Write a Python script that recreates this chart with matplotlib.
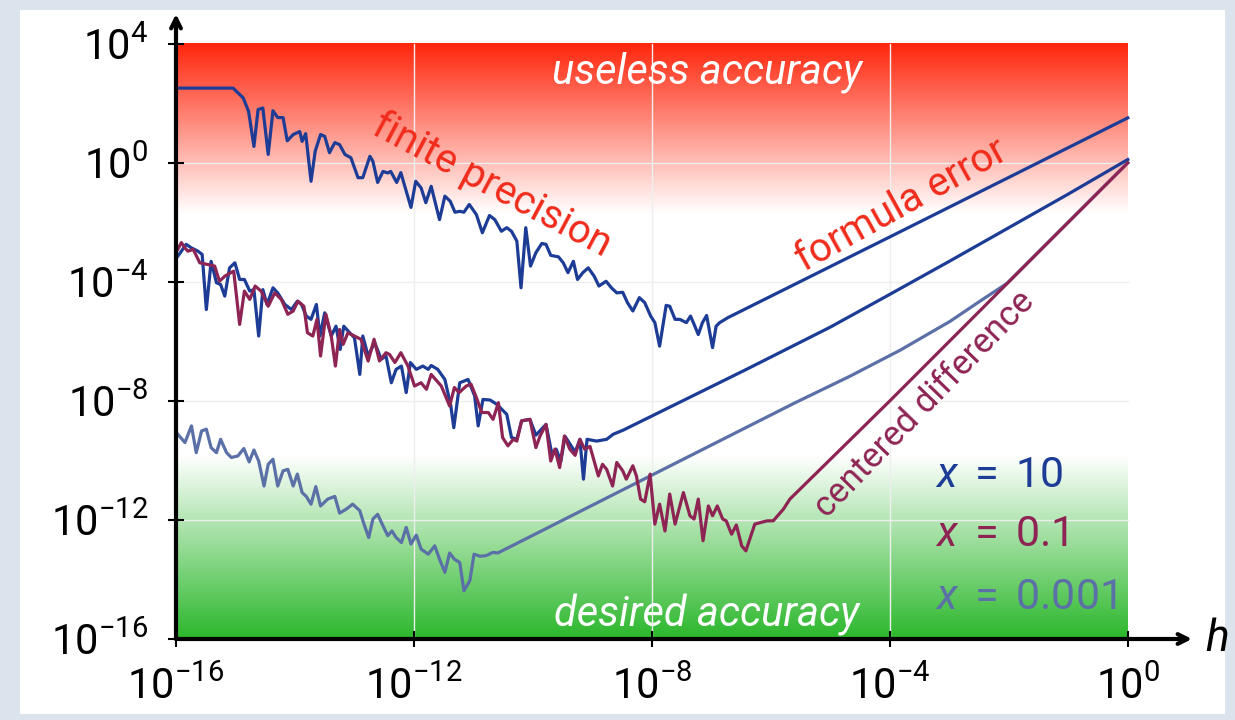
import numpy as np
import matplotlib
matplotlib.use("Agg")
import matplotlib.pyplot as plt

plt.rcParams['font.family'] = ['Roboto', 'DejaVu Sans']
plt.rcParams['mathtext.fontset'] = 'custom'
plt.rcParams['mathtext.rm'] = 'Roboto'
plt.rcParams['mathtext.it'] = 'Roboto:italic'
plt.rcParams['mathtext.bf'] = 'Roboto:bold'

# ---------------- data (log10 exponents) ----------------
# x = 10, forward difference (top blue)
top_h = [-15.97, -15.04, -14.87, -14.78, -14.69, -14.62, -14.54, -14.45, -14.37, -14.29,
         -14.20, -14.13, -14.03, -13.92, -13.88, -13.82, -13.73, -13.66, -13.57, -13.50,
         -13.42, -13.33, -13.25, -13.16, -13.06, -12.94, -12.86, -12.74, -12.69, -12.61,
         -12.52, -12.44, -12.39, -12.29, -12.22, -12.05, -11.97, -11.88, -11.80, -11.71,
         -11.57, -11.48, -11.39, -11.31, -11.23, -11.16, -11.07, -10.95, -10.85, -10.73,
         -10.64, -10.53, -10.44, -10.36, -10.27, -10.20, -10.12, -10.04, -9.95, -9.85,
         -9.78, -9.70, -9.57, -9.49, -9.41, -9.32, -9.25, -9.16, -9.07, -8.97,
         -8.89, -8.77, -8.68, -8.59, -8.49, -8.41, -8.32, -8.21, -8.12, -8.02,
         -7.95, -7.87, -7.76, -7.70, -7.61, -7.53, -7.42, -7.35, -7.29, -7.22,
         -7.15, -7.08, -6.98, -6.92, -6.86, -6.72, -4.00, -2.00, 0.00]
top_e = [2.51, 2.51, 2.18, 1.73, 0.55, 1.79, 1.84, 0.28, 1.75, 1.52,
         1.52, 0.74, 0.95, 1.05, 0.72, 0.98, -0.62, 0.39, 0.95, 0.89,
         0.34, 0.68, 0.61, 0.28, 0.17, -0.50, -0.50, 0.22, 0.05, -0.66,
         -0.29, -0.34, -0.29, -0.66, -0.33, -1.50, -0.62, -0.84, -1.34, -0.79,
         -1.91, -1.12, -1.29, -1.66, -1.63, -1.66, -1.40, -1.74, -2.35, -1.77,
         -1.91, -2.30, -2.18, -2.30, -2.63, -4.20, -2.18, -3.47, -3.02, -2.71,
         -2.74, -3.11, -3.16, -3.36, -3.69, -3.31, -3.92, -3.69, -3.53, -3.81,
         -4.14, -3.98, -4.20, -4.37, -4.35, -4.70, -4.98, -4.53, -4.70, -5.15,
         -5.37, -6.16, -4.79, -4.82, -5.26, -5.26, -5.37, -5.15, -5.43, -5.77,
         -5.37, -5.13, -6.21, -5.49, -5.37, -5.20, -2.49, -0.49, 1.51]

# x = 0.1, forward difference (middle blue)
mid_h = [-15.97, -15.91, -15.83, -15.74, -15.63, -15.56, -15.49, -15.41, -15.32, -15.25,
         -15.18, -15.10, -15.01, -14.93, -14.85, -14.76, -14.69, -14.61, -14.54, -14.47,
         -14.37, -14.29, -14.17, -14.06, -13.96, -13.89, -13.81, -13.73, -13.64, -13.58,
         -13.50, -13.39, -13.31, -13.24, -13.18, -13.08, -13.00, -12.91, -12.86, -12.77,
         -12.66, -12.55, -12.47, -12.38, -12.30, -12.21, -12.13, -12.06, -11.96, -11.85,
         -11.76, -11.71, -11.60, -11.48, -11.38, -11.33, -11.23, -11.09, -10.98, -10.92,
         -10.84, -10.72, -10.61, -10.44, -10.36, -10.27, -10.19, -10.05, -9.95, -9.78,
         -9.68, -9.61, -9.53, -9.46, -9.29, -9.21, -9.15, -9.09, -8.93, -8.76,
         -8.65, -8.48, -6.41, -5.00, -4.00, -3.00, -2.00, -1.00, 0.00]
mid_e = [-3.14, -2.97, -2.74, -2.86, -2.97, -3.08, -4.93, -3.31, -4.03, -4.09,
         -4.48, -3.53, -3.36, -3.92, -3.92, -4.31, -4.26, -5.82, -4.26, -4.76,
         -4.20, -4.37, -4.76, -4.93, -4.65, -4.76, -5.15, -5.26, -4.76, -5.82,
         -5.04, -5.82, -5.49, -6.27, -5.49, -5.71, -5.88, -7.11, -5.82, -6.49,
         -6.04, -6.60, -6.49, -7.39, -6.94, -6.83, -7.72, -6.71, -6.94, -6.83,
         -6.94, -6.81, -6.94, -7.28, -8.17, -8.90, -7.39, -7.28, -7.83, -8.84,
         -7.95, -7.97, -8.11, -8.45, -9.23, -9.29, -8.67, -8.62, -9.15, -8.79,
         -9.79, -9.62, -10.03, -9.19, -9.72, -9.29, -10.63, -9.29, -9.35, -9.29,
         -9.12, -8.98, -6.94, -5.52, -4.42, -3.31, -2.18, -1.05, 0.11]

# centered difference (maroon)
cen_h = [-15.97, -15.91, -15.85, -15.80, -15.71, -15.60, -15.46, -15.35, -15.27, -15.18,
         -15.13, -15.03, -14.93, -14.85, -14.76, -14.67, -14.57, -14.45, -14.34, -14.23,
         -14.12, -14.03, -13.95, -13.85, -13.79, -13.70, -13.63, -13.57, -13.48, -13.39,
         -13.32, -13.25, -13.19, -13.11, -13.00, -12.89, -12.77, -12.67, -12.58, -12.47,
         -12.41, -12.32, -12.22, -12.10, -11.99, -11.88, -11.79, -11.71, -11.54, -11.40,
         -11.32, -11.24, -11.12, -11.04, -10.95, -10.86, -10.75, -10.67, -10.58, -10.51,
         -10.42, -10.33, -10.27, -10.19, -10.05, -9.95, -9.88, -9.78, -9.70, -9.63,
         -9.55, -9.47, -9.38, -9.29, -9.21, -9.13, -9.04, -8.90, -8.83, -8.76,
         -8.66, -8.59, -8.49, -8.43, -8.32, -8.26, -8.19, -8.12, -8.03, -7.95,
         -7.87, -7.78, -7.70, -7.61, -7.47, -7.36, -7.29, -7.22, -7.14, -7.05,
         -6.98, -6.90, -6.81, -6.75, -6.66, -6.58, -6.49, -6.42, -6.27, -6.16,
         -6.06, -5.96, -5.79, -5.68, -4.00, -2.00, 0.00]
cen_e = [-2.91, -2.68, -2.86, -2.97, -2.91, -3.36, -3.42, -3.47, -3.98, -3.81,
         -3.75, -3.64, -5.43, -4.31, -4.59, -4.14, -4.31, -4.82, -4.37, -4.59,
         -5.09, -4.98, -4.65, -4.82, -5.71, -5.82, -5.26, -6.49, -5.09, -5.82,
         -6.83, -5.60, -6.10, -5.71, -5.82, -5.93, -6.66, -5.93, -6.66, -6.38,
         -6.44, -6.71, -6.38, -6.83, -7.50, -7.39, -7.61, -7.11, -7.50, -8.17,
         -7.55, -7.72, -7.50, -7.44, -7.89, -8.39, -8.39, -8.62, -8.06, -9.23,
         -9.51, -9.29, -9.35, -8.67, -8.62, -9.57, -9.18, -8.79, -10.02, -9.62,
         -10.24, -9.18, -9.62, -9.83, -9.29, -9.62, -9.53, -10.52, -10.13, -10.30,
         -10.86, -10.07, -10.35, -10.63, -10.18, -10.52, -11.30, -11.39, -10.46, -12.14,
         -11.47, -12.37, -11.13, -12.14, -11.08, -11.86, -11.97, -11.30, -12.70, -11.53,
         -11.86, -11.53, -11.97, -12.03, -12.48, -12.17, -12.87, -13.04, -12.14, -12.08,
         -12.03, -12.03, -11.64, -11.30, -8.00, -4.00, 0.00]

# x = 0.001, forward difference (grey-blue)
low_h = [-15.97, -15.85, -15.74, -15.66, -15.57, -15.49, -15.41, -15.32, -15.25, -15.15,
         -15.07, -14.96, -14.86, -14.77, -14.69, -14.61, -14.52, -14.45, -14.37, -14.29,
         -14.20, -14.12, -14.03, -13.96, -13.88, -13.81, -13.73, -13.65, -13.57, -13.45,
         -13.33, -13.25, -13.14, -13.03, -12.91, -12.84, -12.76, -12.69, -12.61, -12.52,
         -12.44, -12.37, -12.30, -12.21, -12.13, -12.05, -11.96, -11.88, -11.76, -11.65,
         -11.57, -11.48, -11.40, -11.32, -11.23, -11.16, -11.06, -10.99, -10.89, -10.79,
         -10.67, -10.59, -5.60, -4.67, -3.83, -2.99, -2.44, -2.03, -1.31, 0.00]
low_e = [-9.12, -9.40, -8.84, -9.74, -9.01, -8.95, -9.57, -9.74, -9.29, -9.74,
         -9.90, -9.85, -9.60, -10.05, -9.65, -10.02, -10.86, -10.13, -9.96, -10.86,
         -10.35, -10.30, -10.86, -10.46, -11.08, -11.21, -11.47, -10.88, -11.53, -11.30,
         -11.21, -11.77, -11.64, -11.47, -11.69, -12.14, -12.59, -11.97, -11.81, -12.20,
         -12.53, -12.37, -12.59, -12.76, -12.25, -12.81, -12.51, -12.98, -13.15, -12.87,
         -13.32, -13.76, -13.11, -13.32, -13.43, -14.38, -14.04, -13.15, -13.22, -13.20,
         -13.09, -13.11, -8.07, -7.17, -6.30, -5.33, -4.59, -4.05, -2.61, 0.00]

x_ticks = [1e-16, 1e-12, 1e-8, 1e-4, 1e0]
x_ticklabels = [r'$10^{-16}$', r'$10^{-12}$', r'$10^{-8}$', r'$10^{-4}$', r'$10^{0}$']
y_ticks = [1e-16, 1e-12, 1e-8, 1e-4, 1e0, 1e4]
y_ticklabels = [r'$10^{-16}$', r'$10^{-12}$', r'$10^{-8}$', r'$10^{-4}$', r'$10^{0}$', r'$10^{4}$']
legend_labels = [r'$x\;=\;10$', r'$x\;=\;0.1$', r'$x\;=\;0.001$']

BLUE = '#1d3c96'
MAROON = '#8e2454'
GREY = '#5b70a6'
RED = '#f02c1c'

# ---------------- figure ----------------
W, H = 1235, 720
fig = plt.figure(figsize=(W / 100, H / 100), dpi=100)
fig.patch.set_facecolor('#dbe3ed')
bg = fig.add_axes([20 / W, 1 - 714 / H, (1225 - 20) / W, (714 - 10) / H], zorder=-5)
bg.set_facecolor('white')
bg.set_xticks([])
bg.set_yticks([])
for s in bg.spines.values():
    s.set_visible(False)

x_lo, x_hi = -16.0, 1.08   # log10 limits
y_lo, y_hi = -16.0, 5.0
ax = fig.add_axes([176 / W, 1 - 639 / H, (1192 - 176) / W, (639 - 14) / H], zorder=2)
ax.set_facecolor('none')
ax.set_xscale('log')
ax.set_yscale('log')

# gradient background (within [1e-16,1e0] x [1e-16,1e4])
n = 600
le = np.linspace(4, -16, n)
red = np.array([1.0, 0.15, 0.05])
green = np.array([0.17, 0.72, 0.17])
white = np.array([1.0, 1.0, 1.0])
img = np.ones((n, 1, 3))
r0, g0 = -1.7, -9.85
for i, v in enumerate(le):
    if v > r0:
        t = (v - r0) / (4 - r0)
        img[i, 0] = white * (1 - t) + red * t
    elif v < g0:
        t = (g0 - v) / (g0 - (-16))
        img[i, 0] = white * (1 - t) + green * t
xf1 = (0 - x_lo) / (x_hi - x_lo)
yf1 = (4 - y_lo) / (y_hi - y_lo)
ax.imshow(img, extent=[0, xf1, 0, yf1], transform=ax.transAxes, aspect='auto',
          interpolation='bilinear', zorder=0)

# grid lines restricted to the shaded box
for xv in x_ticks[1:-1]:
    ax.plot([xv, xv], [1e-16, 1e4], color='#eeeeee', lw=1.0, zorder=1)
for yv in y_ticks[1:-1]:
    ax.plot([1e-16, 1e0], [yv, yv], color='#eeeeee', lw=1.0, zorder=1)

lw = 2.3
ax.plot(10 ** np.array(low_h), 10 ** np.array(low_e), color=GREY, lw=lw, zorder=3)
ax.plot(10 ** np.array(mid_h), 10 ** np.array(mid_e), color=BLUE, lw=lw, zorder=3)
ax.plot(10 ** np.array(cen_h), 10 ** np.array(cen_e), color=MAROON, lw=lw, zorder=4)
ax.plot(10 ** np.array(top_h), 10 ** np.array(top_e), color=BLUE, lw=lw, zorder=3)

ax.set_xlim(10 ** x_lo, 10 ** x_hi)
ax.set_ylim(10 ** y_lo, 10 ** y_hi)

for s in ax.spines.values():
    s.set_visible(False)
ax.annotate('', xy=(1, 0), xytext=(0, 0), xycoords='axes fraction',
            arrowprops=dict(arrowstyle='->,head_length=0.7,head_width=0.35', lw=3, color='black',
                            shrinkA=0, shrinkB=0), zorder=6)
ax.annotate('', xy=(0, 1), xytext=(0, 0), xycoords='axes fraction',
            arrowprops=dict(arrowstyle='->,head_length=0.7,head_width=0.35', lw=3, color='black',
                            shrinkA=0, shrinkB=0), zorder=6)

ax.set_xticks(x_ticks)
ax.set_xticklabels(x_ticklabels)
ax.set_yticks(y_ticks)
ax.set_yticklabels(y_ticklabels)
ax.minorticks_off()
ax.tick_params(axis='both', direction='inout', length=12, width=1.5, labelsize=30,
               colors='black')
ax.tick_params(axis='x', pad=14)
ax.tick_params(axis='y', pad=14)

ax.text(1.024, 0.0, r'$h$', transform=ax.transAxes, fontsize=32, va='center', ha='center')

txt_kw = dict(ha='center', va='center', zorder=7)
ax.text(10 ** -7.08, 10 ** 3.03, 'useless accuracy', color='white', fontsize=30,
        style='italic', **txt_kw)
ax.text(10 ** -7.08, 10 ** -15.2, 'desired accuracy', color='white', fontsize=30,
        style='italic', **txt_kw)
ax.text(10 ** -10.69, 10 ** -0.74, 'finite precision', color=RED, fontsize=29,
        rotation=-28, rotation_mode='anchor', **txt_kw)
ax.text(10 ** -3.80, 10 ** -1.41, 'formula error', color=RED, fontsize=29,
        rotation=29, rotation_mode='anchor', **txt_kw)
ax.text(10 ** -3.41, 10 ** -8.13, 'centered difference', color=MAROON, fontsize=25,
        rotation=46, rotation_mode='anchor', **txt_kw)

for lab, col, yv in zip(legend_labels, [BLUE, MAROON, GREY], [-10.49, -12.5, -14.59]):
    ax.text(10 ** -3.24, 10 ** yv, lab, color=col, fontsize=31, ha='left', va='center',
            zorder=7)

fig.savefig('out.png', dpi=100, facecolor=fig.get_facecolor())
